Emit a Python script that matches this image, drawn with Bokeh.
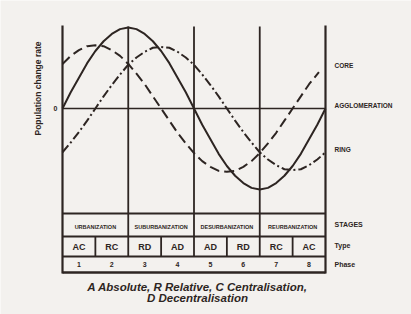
import math
from bokeh.plotting import figure
from bokeh.models import Range1d
from bokeh.core.properties import value
from bokeh.embed import file_html
from bokeh.resources import INLINE

# ---------------- data ----------------
x_pos = [0, 0.25, 0.5, 0.75, 1, 1.25, 1.5, 1.75, 2, 2.25, 2.5, 2.75, 3, 3.25, 3.5, 3.75,
         4, 4.25, 4.5, 4.75, 5, 5.25, 5.5, 5.75, 6, 6.25, 6.5, 6.75, 7, 7.25, 7.5, 7.75, 8]
# agglomeration (solid)
agglomeration = [0, 0.20, 0.38, 0.56, 0.71, 0.83, 0.92, 0.98, 1.00, 0.98, 0.92, 0.83, 0.71,
                 0.56, 0.38, 0.20, 0, -0.20, -0.38, -0.56, -0.71, -0.83, -0.92, -0.98, -1.00,
                 -0.98, -0.92, -0.83, -0.71, -0.56, -0.38, -0.20, 0]
# core (dashed)
core_x = [0, 0.25, 0.5, 0.75, 1, 1.25, 1.5, 1.75, 2, 2.25, 2.5, 2.75, 3, 3.25, 3.5, 3.75,
          4, 4.25, 4.5, 4.75, 5, 5.25, 5.5, 5.75, 6, 6.25, 6.5, 6.75, 7, 7.25, 7.5, 7.8]
core = [0.55, 0.65, 0.72, 0.77, 0.78, 0.77, 0.72, 0.65, 0.55, 0.43, 0.30, 0.15, 0,
        -0.15, -0.30, -0.43, -0.55, -0.65, -0.72, -0.77, -0.78, -0.77, -0.72, -0.65, -0.55,
        -0.43, -0.30, -0.15, 0, 0.15, 0.30, 0.45]
# ring (dash-dot)
ring = [-0.54, -0.42, -0.29, -0.15, 0, 0.15, 0.29, 0.42, 0.54, 0.63, 0.70, 0.75, 0.76,
        0.75, 0.70, 0.63, 0.54, 0.42, 0.29, 0.15, 0, -0.15, -0.29, -0.42, -0.54, -0.63,
        -0.70, -0.75, -0.76, -0.75, -0.70, -0.63, -0.54]

stages = ["URBANIZATION", "SUBURBANIZATION", "DESURBANIZATION", "REURBANIZATION"]
stage_mid = [1, 3, 5, 7]
types = ["AC", "RC", "RD", "AD", "AD", "RD", "RC", "AC"]
phases = ["1", "2", "3", "4", "5", "6", "7", "8"]
phase_mid = [0.5, 1.5, 2.5, 3.5, 4.5, 5.5, 6.5, 7.5]
right_labels = ["CORE", "AGGLOMERATION", "RING"]

# ---------------- layout ----------------
INK = "#2d2522"
BG = "#f3f1ee"
FONT = "Liberation Sans"
W, H = 411, 314


def X(px):
    return (px - 62) / 32.875


def Y(py):
    return (108 - py) / 81.0


p = figure(width=W, height=H, output_backend="svg", toolbar_location=None,
           x_range=Range1d(X(0), X(W)), y_range=Range1d(Y(H), Y(0)),
           x_axis_type=None, y_axis_type=None, min_border=0,
           outline_line_color=None, background_fill_color=BG, border_fill_color=BG)

# frame verticals
p.segment(x0=[0, 8], y0=[Y(25), Y(25)], x1=[0, 8], y1=[Y(273), Y(273)],
          line_color=INK, line_width=2.2)
p.segment(x0=[2, 4, 6], y0=[Y(26)] * 3, x1=[2, 4, 6], y1=[Y(256)] * 3,
          line_color=INK, line_width=1.8)
p.segment(x0=[1, 3, 5, 7], y0=[Y(236)] * 4, x1=[1, 3, 5, 7], y1=[Y(256)] * 4,
          line_color=INK, line_width=1.8)
# horizontals
hy = [0, Y(213), Y(236), Y(256), Y(272)]
hw = [1.6, 2.2, 1.8, 1.8, 2.4]
for yy, ww in zip(hy, hw):
    p.segment(x0=[0], y0=[yy], x1=[8], y1=[yy], line_color=INK, line_width=ww)

# curves
p.line(x_pos, agglomeration, line_color=INK, line_width=2)
p.line(core_x, core, line_color=INK, line_width=2, line_dash="10 5")
p.line(x_pos, ring, line_color=INK, line_width=2, line_dash="9 3 2 3")

bold = dict(text_color=INK, text_font=value(FONT), text_font_style="bold",
            text_baseline="middle")

p.text(x=stage_mid, y=[Y(226)] * 4, text=stages, text_align="center",
       text_font_size="5.5px", **bold)
p.text(x=phase_mid, y=[Y(246.5)] * 8, text=types, text_align="center",
       text_font_size="9px", **bold)
p.text(x=phase_mid, y=[Y(264)] * 8, text=phases, text_align="center",
       text_font_size="7px", **bold)

p.text(x=[X(334)] * 3, y=[Y(65), Y(105), Y(149)], text=right_labels,
       text_align="left", text_font_size="6.5px", **bold)
p.text(x=[X(334)] * 3, y=[Y(224), Y(245), Y(264)], text=["STAGES", "Type", "Phase"],
       text_align="left", text_font_size="7px", **bold)

p.text(x=[X(37)], y=[Y(88)], text=["Population change rate"], angle=math.pi / 2,
       text_align="center", text_font_size="8.5px", **bold)
p.text(x=[X(55)], y=[Y(108)], text=["0"], text_align="center",
       text_font_size="7px", **bold)

cap = dict(text_color=INK, text_font=value(FONT), text_font_style="bold italic",
           text_baseline="middle", text_align="center", text_font_size="11.5px")
p.text(x=[X(197)], y=[Y(286)], text=["A Absolute, R Relative, C Centralisation,"], **cap)
p.text(x=[X(197)], y=[Y(297)], text=["D Decentralisation"], **cap)

open("out.html", "w").write(file_html(p, INLINE))
